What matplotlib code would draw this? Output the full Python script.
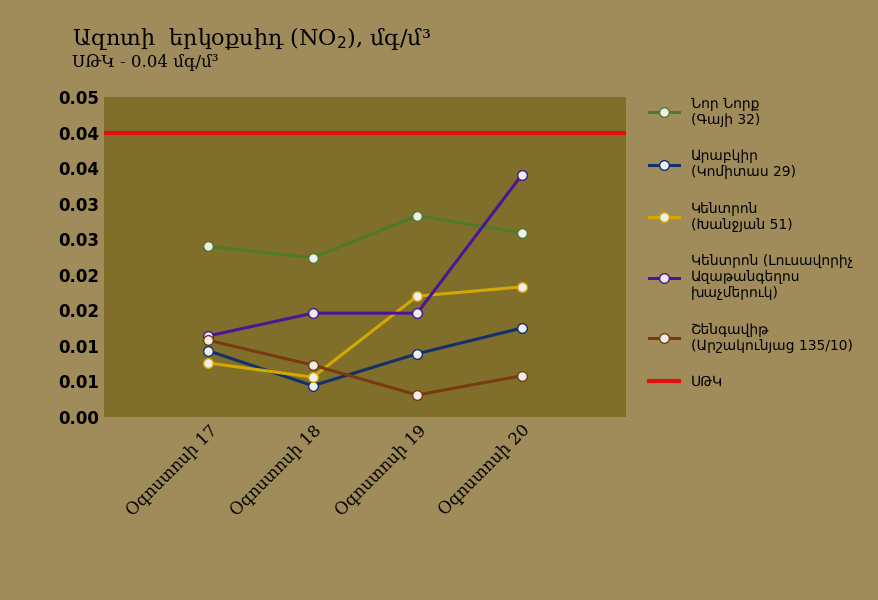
import matplotlib.pyplot as plt
import numpy as np

days = ["Օգոստոսի 17", "Օգոստոսի 18", "Օգոստոսի 19", "Օգոստոսի 20"]
nor_nork = [0.0240, 0.0224, 0.0283, 0.0259]
arabkir = [0.0093, 0.0044, 0.0089, 0.0125]
kentron_kh = [0.0076, 0.0056, 0.0170, 0.0183]
kentron_l = [0.0114, 0.0146, 0.0146, 0.0340]
shengavit = [0.0108, 0.0073, 0.0031, 0.0058]
limit = 0.04
ytick_labels = ["0.00", "0.01", "0.01", "0.02", "0.02", "0.03", "0.03", "0.04", "0.04", "0.05"]

names = ["Նոր Նորք\n(Գայի 32)", "Արաբկիր\n(Կոմիտաս 29)", "Կենտրոն\n(Խանջյան 51)",
         "Կենտրոն (Լուսավորիչ\nԱզաթանգեղոս\nխաչմերուկ)", "Շենգավիթ\n(Արշակունյաց 135/10)"]
colors = ["#4f7a2a", "#13306b", "#d4a800", "#4b1596", "#7a3a10"]
series = [nor_nork, arabkir, kentron_kh, kentron_l, shengavit]

plt.rcParams['font.family'] = ['DejaVu Serif', 'DejaVu Sans']
bg = "#a08c5a"
fig = plt.figure(figsize=(8.79, 6), dpi=100, facecolor=bg)
ax = fig.add_axes([104/879, 1-417/600, 522/879, 320/600])
ax.set_facecolor("#7f6f2a")
x = np.arange(len(days))
for s, c, n in zip(series, colors, names):
    ax.plot(x, s, color=c, lw=2.2, marker='o', ms=7, mfc="#eeeeee", mec=c, label=n)
ax.axhline(limit, color="#e41010", lw=3, label="ՍԹԿ")
ax.set_xlim(-1, 4)
ax.set_ylim(0, 0.045)
ax.set_yticks(np.linspace(0, 0.045, 10))
ax.set_yticklabels(ytick_labels, fontsize=12, fontweight='bold', family='DejaVu Sans')
ax.set_xticks(x)
ax.set_xticklabels(days, rotation=45, ha='right', rotation_mode='anchor', fontsize=12)
for sp in ax.spines.values():
    sp.set_visible(False)
ax.tick_params(length=0)
ax.legend(loc='upper left', bbox_to_anchor=(1.02, 1.04), frameon=False,
          prop={'family': 'DejaVu Sans', 'size': 10},
          labelspacing=1.6, handlelength=2.2)
fig.text(72/879, 1-38/600, "Ազոտի  երկօքսիդ (NO$_2$), մգ/մ³", fontsize=16, va='center')
fig.text(72/879, 1-62/600, "ՍԹԿ - 0.04 մգ/մ³", fontsize=12, va='center')
fig.savefig("out.png", facecolor=bg)
